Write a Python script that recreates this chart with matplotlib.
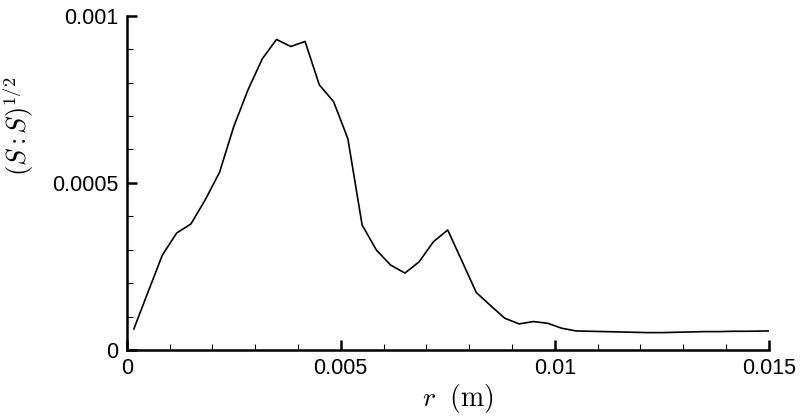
import matplotlib
matplotlib.use('Agg')
import matplotlib.pyplot as plt
from matplotlib.ticker import FixedLocator, MultipleLocator

plt.rcParams['mathtext.fontset'] = 'cm'
plt.rcParams['font.family'] = ['Liberation Sans', 'DejaVu Sans']

# radius (m) and strain-rate magnitude
r = [0.000167, 0.0005, 0.000833, 0.001167, 0.0015, 0.001833, 0.002167, 0.0025,
     0.002833, 0.003167, 0.0035, 0.003833, 0.004167, 0.0045, 0.004833, 0.005167,
     0.0055, 0.005833, 0.006167, 0.0065, 0.006833, 0.007167, 0.0075, 0.007833,
     0.008167, 0.0085, 0.008833, 0.009167, 0.0095, 0.009833, 0.010167, 0.0105,
     0.010833, 0.011167, 0.0115, 0.011833, 0.012167, 0.0125, 0.012833, 0.013167,
     0.0135, 0.013833, 0.014167, 0.0145, 0.015]
s = [0.000063, 0.000174, 0.000284, 0.00035, 0.000377, 0.000449, 0.000531, 0.000668,
     0.000778, 0.000871, 0.000929, 0.000908, 0.000923, 0.000793, 0.000743, 0.000632,
     0.000374, 0.000299, 0.000254, 0.00023, 0.000264, 0.000324, 0.000359, 0.000266,
     0.000172, 0.000133, 0.000095, 0.000078, 0.000085, 0.00008, 0.000065, 0.000057,
     0.000056, 0.000055, 0.000054, 0.000053, 0.000052, 0.000052, 0.000053, 0.000054,
     0.000055, 0.000055, 0.000056, 0.000056, 0.000057]

x_ticks = [0, 0.005, 0.01, 0.015]
x_tick_labels = ['0', '0.005', '0.01', '0.015']
y_ticks = [0, 0.0005, 0.001]
y_tick_labels = ['0', '0.0005', '0.001']

fig = plt.figure(figsize=(8, 4.18), dpi=100)
ax = fig.add_axes([0.1584, 0.1627, 0.8025, 0.7997])
ax.plot(r, s, color='black', linewidth=1.2)

ax.set_xlim(0, 0.015)
ax.set_ylim(0, 0.001)
ax.spines['top'].set_visible(False)
ax.spines['right'].set_visible(False)
ax.spines['left'].set_linewidth(1.8)
ax.spines['bottom'].set_linewidth(1.8)

ax.xaxis.set_major_locator(FixedLocator(x_ticks))
ax.set_xticklabels(x_tick_labels)
ax.yaxis.set_major_locator(FixedLocator(y_ticks))
ax.set_yticklabels(y_tick_labels)
ax.xaxis.set_minor_locator(MultipleLocator(0.001))
ax.yaxis.set_minor_locator(MultipleLocator(0.0001))
ax.tick_params(which='major', direction='in', length=7, width=1.8, labelsize=15.5, pad=6)
ax.tick_params(which='minor', direction='in', length=4, width=0.8)

ax.set_xlabel(r'$r\;\ \mathrm{(m)}$', fontsize=20)
ax.set_ylabel(r'$(S:S)^{1/2}$', fontsize=19)
ax.xaxis.set_label_coords(0.516, -0.095)
ax.yaxis.set_label_coords(-0.141, 0.67)

fig.savefig('out.png', dpi=100)
